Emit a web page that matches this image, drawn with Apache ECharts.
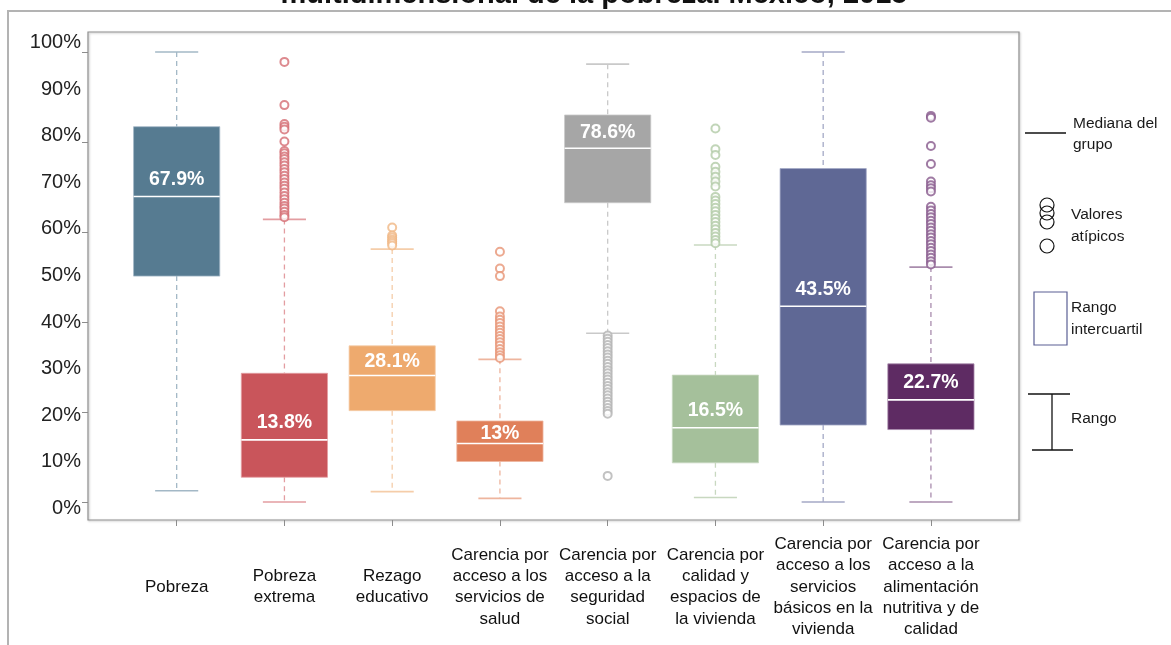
<!DOCTYPE html>
<html>
<head>
<meta charset="utf-8">
<script src="https://cdn.jsdelivr.net/npm/echarts@6/dist/echarts.min.js"></script>
<style>
  html, body { margin: 0; padding: 0; background: #ffffff; }
  #chart { width: 1171px; height: 645px; }
</style>
</head>
<body>
<div id="chart"></div>
<script>
// Indicadores de pobreza multidimensional por municipio (porcentaje de población)
const categories = [
  'Pobreza',
  'Pobreza\nextrema',
  'Rezago\neducativo',
  'Carencia por\nacceso a los\nservicios de\nsalud',
  'Carencia por\nacceso a la\nseguridad\nsocial',
  'Carencia por\ncalidad y\nespacios de\nla vivienda',
  'Carencia por\nacceso a los\nservicios\nbásicos en la\nvivienda',
  'Carencia por\nacceso a la\nalimentación\nnutritiva y de\ncalidad'
];

const lowWhisker  = [2.5, 0, 2.3, 0.8, 37.5, 1.0, 0, 0];
const q1          = [50.2, 5.5, 20.3, 9.0, 66.5, 8.7, 17.1, 16.1];
const medians     = [67.9, 13.8, 28.1, 13, 78.6, 16.5, 43.5, 22.7];
const q3          = [83.4, 28.6, 34.7, 18.0, 86.0, 28.2, 74.1, 30.7];
const highWhisker = [100, 62.8, 56.2, 31.7, 97.3, 57.1, 100, 52.2];

const outPobreza = [];
const outPobrezaExtrema = [97.8, 88.2, 84.0, 83.4, 82.8, 80.1, 78.0, 77.5, 76.8, 76.2, 75.5, 74.8,
  74.0, 73.3, 72.5, 71.8, 71.0, 70.3, 69.6, 68.8, 68.0, 67.3, 66.5, 65.8, 65.2, 64.5, 63.8, 63.3];
const outRezago = [61.0, 59.2, 58.8, 58.3, 57.9, 57.5, 57.0];
const outSalud = [55.6, 51.9, 50.2, 42.4, 41.2, 40.5, 39.8, 39.0, 38.3, 37.6, 36.9, 36.2,
  35.5, 34.8, 34.0, 33.3, 32.6, 32.0];
const outSeguridad = [37.0, 36.3, 35.6, 34.9, 34.2, 33.5, 32.8, 32.1, 31.4, 30.7, 30.0, 29.3,
  28.6, 27.9, 27.2, 26.5, 25.8, 25.1, 24.4, 23.7, 23.0, 22.3, 21.6, 20.9, 20.2, 19.6, 5.8];
const outVivienda = [83.0, 78.4, 77.1, 74.5, 73.4, 72.3, 71.2, 70.1, 67.8, 67.0, 66.2, 65.4,
  64.6, 63.8, 63.0, 62.2, 61.4, 60.6, 59.8, 59.0, 58.2, 57.5];
const outServicios = [];
const outAlimentacion = [85.8, 85.4, 79.1, 75.1, 71.2, 70.4, 69.7, 69.0, 65.6, 64.8, 64.0, 63.3,
  62.5, 61.8, 61.0, 60.3, 59.5, 58.8, 58.0, 57.3, 56.5, 55.8, 55.0, 54.3, 53.5, 52.8];
const outliers = [outPobreza, outPobrezaExtrema, outRezago, outSalud, outSeguridad,
  outVivienda, outServicios, outAlimentacion];

const yTickValues = [0, 20, 40, 60, 80, 100];
const yLabelValues = [0, 10, 20, 30, 40, 50, 60, 70, 80, 90, 100];

const titleText = 'multidimensional de la pobreza. México, 2015';

// Paleta por indicador: relleno de caja, bigotes y valores atípicos
const palette = ['#567b91', '#c9555b', '#eeaa6e', '#e0805a', '#a6a6a6', '#a5c09b', '#5f6895', '#5e2b63'];
const tints = ['#a3b8c6', '#e39da1', '#f5cda9', '#eeb59e', '#c9c9c9', '#c8d8c0', '#a4a9c6', '#a98cad'];
const outlierColors = ['#7f9aab', '#d56d73', '#f0b683', '#e79474', '#b3b3b3', '#b1caa6', '#7f86ad', '#87598c'];

const FONT = '"Liberation Sans", Arial, Helvetica, sans-serif';

const boxData = categories.map((c, i) => [i, lowWhisker[i], q1[i], medians[i], q3[i], highWhisker[i]]);
const outlierData = [];
outliers.forEach((arr, i) => arr.forEach(v => outlierData.push([i, v])));

const chart = echarts.init(document.getElementById('chart'), null, { renderer: 'canvas' });

function renderBox(params, api) {
  const i = api.value(0);
  const lo = api.coord([i, api.value(1)]);
  const b1 = api.coord([i, api.value(2)]);
  const md = api.coord([i, api.value(3)]);
  const b3 = api.coord([i, api.value(4)]);
  const hi = api.coord([i, api.value(5)]);
  const bw = api.size([1, 0])[0] * 0.8;
  const cw = bw * 0.5;
  const cx = md[0];
  const col = palette[i];
  const tint = tints[i];
  const med = api.value(3);
  // etiqueta encima de la mediana, sin salir de la caja
  const labelY = Math.max(md[1] - 17, (md[1] + b3[1]) / 2 + 1);
  return {
    type: 'group',
    children: [
      { type: 'line', shape: { x1: cx, y1: hi[1], x2: cx, y2: b3[1] },
        style: { stroke: tint, lineWidth: 1.3, lineDash: [5, 4] } },
      { type: 'line', shape: { x1: cx, y1: b1[1], x2: cx, y2: lo[1] },
        style: { stroke: tint, lineWidth: 1.3, lineDash: [5, 4] } },
      { type: 'line', shape: { x1: cx - cw / 2, y1: hi[1], x2: cx + cw / 2, y2: hi[1] },
        style: { stroke: tint, lineWidth: 1.6 } },
      { type: 'line', shape: { x1: cx - cw / 2, y1: lo[1], x2: cx + cw / 2, y2: lo[1] },
        style: { stroke: tint, lineWidth: 1.6 } },
      { type: 'rect', shape: { x: cx - bw / 2, y: b3[1], width: bw, height: b1[1] - b3[1] },
        style: { fill: col, stroke: tint, lineWidth: 0.8 } },
      { type: 'line', shape: { x1: cx - bw / 2, y1: md[1], x2: cx + bw / 2, y2: md[1] },
        style: { stroke: '#ffffff', lineWidth: 1.6 } },
      { type: 'text',
        style: { x: cx, y: labelY, text: String(med) + '%', fill: '#ffffff',
          font: 'bold 19.5px ' + FONT, align: 'center', verticalAlign: 'middle' } }
    ]
  };
}

const legendText = (x, y, t) => ({
  type: 'text', silent: true,
  style: { x: x, y: y, text: t, fill: '#1a1a1a', font: '15.5px ' + FONT, verticalAlign: 'middle' }
});

chart.setOption({
  animation: false,
  backgroundColor: '#ffffff',
  grid: { left: 122.8, right: 186.2, top: 32, bottom: 125, containLabel: false },
  xAxis: {
    type: 'category',
    data: categories,
    boundaryGap: true,
    axisLine: { show: false, onZero: false },
    axisTick: { show: true, alignWithLabel: true, length: 6, lineStyle: { color: '#8c8c8c' } },
    axisLabel: {
      interval: 0, margin: 67, verticalAlign: 'middle', align: 'center',
      fontFamily: FONT, fontSize: 17, lineHeight: 21.3, color: '#111111'
    },
    splitLine: { show: false }
  },
  yAxis: [
    {
      type: 'value', min: -4, max: 104.444, position: 'left', offset: 34.8,
      axisLine: { show: false },
      axisTick: { show: true, length: 6, customValues: yTickValues, lineStyle: { color: '#8c8c8c' } },
      axisLabel: { show: false },
      splitLine: { show: false }
    },
    {
      type: 'value', min: -2.51, max: 102.3, position: 'left', offset: 34.8,
      axisLine: { show: false },
      axisTick: { show: false },
      axisLabel: {
        show: true, customValues: yLabelValues, margin: 7,
        formatter: v => v + '%', fontFamily: FONT, fontSize: 20, color: '#222222'
      },
      splitLine: { show: false }
    }
  ],
  series: [
    {
      type: 'custom',
      xAxisIndex: 0, yAxisIndex: 0,
      renderItem: renderBox,
      encode: { x: 0, y: [1, 2, 3, 4, 5] },
      data: boxData,
      z: 3
    },
    {
      type: 'scatter',
      xAxisIndex: 0, yAxisIndex: 0,
      symbol: 'emptyCircle',
      symbolSize: 8,
      data: outlierData,
      itemStyle: {
        color: p => outlierColors[p.value[0]],
        borderColor: p => outlierColors[p.value[0]],
        borderWidth: 1.4
      },
      z: 4
    }
  ],
  graphic: [
    // marco exterior
    { type: 'polyline', silent: true, z: -1,
      shape: { points: [[8, 645], [8, 11], [1171, 11]] },
      style: { stroke: '#b3b3b3', lineWidth: 2, fill: null } },
    // título (parcialmente fuera del lienzo)
    { type: 'text', silent: true,
      style: { x: 594, y: -5.5, text: titleText, fill: '#111111',
        font: 'bold 29px ' + FONT, align: 'center', verticalAlign: 'middle' } },
    // marco del área de trazado
    { type: 'rect', silent: true,
      shape: { x: 88, y: 32, width: 931, height: 488 },
      style: { fill: null, stroke: '#8f8f8f', lineWidth: 1.2,
        shadowColor: 'rgba(0,0,0,0.25)', shadowBlur: 2, shadowOffsetX: 1, shadowOffsetY: 1 } },
    // leyenda: mediana
    { type: 'line', silent: true, shape: { x1: 1025, y1: 133, x2: 1066, y2: 133 },
      style: { stroke: '#111111', lineWidth: 1.3 } },
    legendText(1073, 124, 'Mediana del'),
    legendText(1073, 145, 'grupo'),
    // leyenda: valores atípicos
    { type: 'circle', silent: true, shape: { cx: 1047, cy: 205, r: 7 }, style: { fill: null, stroke: '#111111', lineWidth: 1.2 } },
    { type: 'circle', silent: true, shape: { cx: 1047, cy: 213, r: 7 }, style: { fill: null, stroke: '#111111', lineWidth: 1.2 } },
    { type: 'circle', silent: true, shape: { cx: 1047, cy: 222, r: 7 }, style: { fill: null, stroke: '#111111', lineWidth: 1.2 } },
    { type: 'circle', silent: true, shape: { cx: 1047, cy: 246, r: 7 }, style: { fill: null, stroke: '#111111', lineWidth: 1.2 } },
    legendText(1071, 215, 'Valores'),
    legendText(1071, 237, 'atípicos'),
    // leyenda: rango intercuartil
    { type: 'rect', silent: true, shape: { x: 1034, y: 292, width: 33, height: 53 },
      style: { fill: null, stroke: '#5b5f94', lineWidth: 1.2 } },
    legendText(1071, 308, 'Rango'),
    legendText(1071, 330, 'intercuartil'),
    // leyenda: rango
    { type: 'line', silent: true, shape: { x1: 1028, y1: 394, x2: 1070, y2: 394 }, style: { stroke: '#111111', lineWidth: 1.3 } },
    { type: 'line', silent: true, shape: { x1: 1052, y1: 394, x2: 1052, y2: 450 }, style: { stroke: '#111111', lineWidth: 1.3 } },
    { type: 'line', silent: true, shape: { x1: 1032, y1: 450, x2: 1073, y2: 450 }, style: { stroke: '#111111', lineWidth: 1.3 } },
    legendText(1071, 419, 'Rango')
  ]
});
</script>
</body>
</html>
